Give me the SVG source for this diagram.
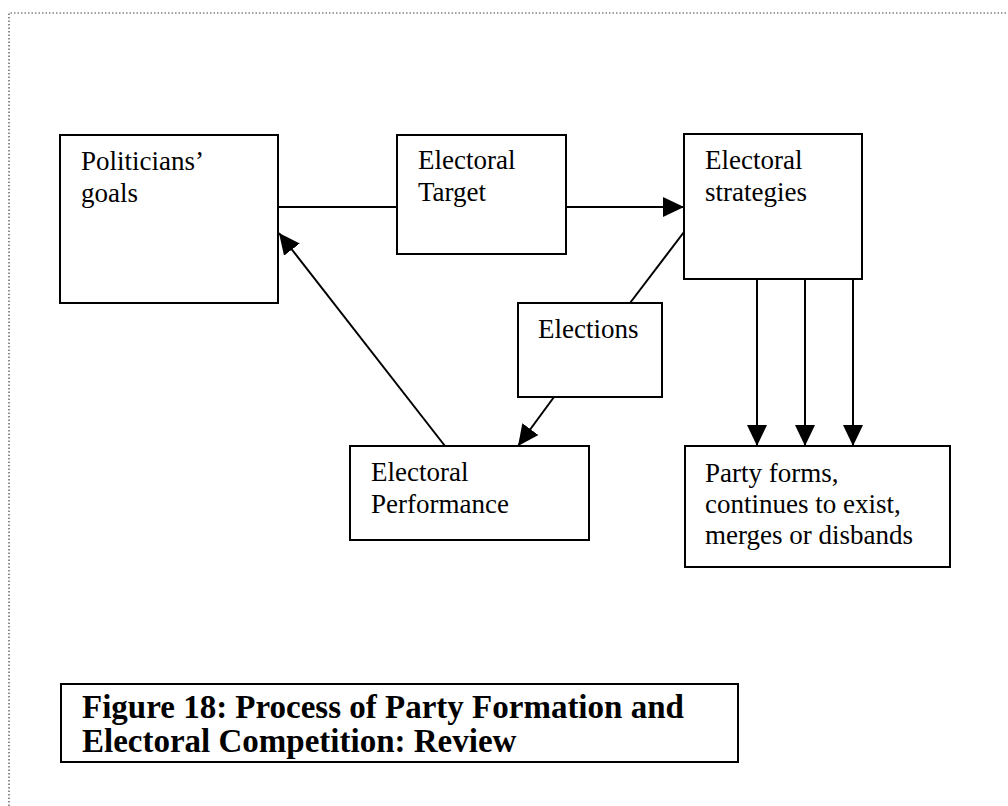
<svg xmlns="http://www.w3.org/2000/svg" width="1008" height="806" viewBox="0 0 1008 806">
  <defs>
    <marker id="head" markerUnits="userSpaceOnUse" markerWidth="22" markerHeight="20" refX="21" refY="10" orient="auto">
      <path d="M0,0 L21,10 L0,20 Z" fill="#000"/>
    </marker>
    <style>
      .box { fill: #fff; stroke: #000; stroke-width: 2; }
      .lbl { font-family: "Liberation Serif", "Times New Roman", serif; font-size: 27px; fill: #000; }
      .cap { font-family: "Liberation Serif", "Times New Roman", serif; font-size: 33px; font-weight: bold; fill: #000; }
      .edge { stroke: #000; stroke-width: 2; fill: none; }
      .frame { stroke: #444; stroke-width: 1.2; stroke-dasharray: 1.5 2; fill: none; }
    </style>
  </defs>

  <rect width="1008" height="806" fill="#fff"/>

  <!-- dotted page frame -->
  <path class="frame" d="M9,806 V13 H1008"/>

  <!-- connectors -->
  <g id="connectors">
    <line class="edge" x1="278" y1="207" x2="397" y2="207"/>
    <line class="edge" x1="566" y1="207" x2="684" y2="207" marker-end="url(#head)"/>
    <line class="edge" x1="684" y1="232" x2="630" y2="303"/>
    <line class="edge" x1="554" y1="397" x2="518" y2="446" marker-end="url(#head)"/>
    <line class="edge" x1="445" y1="446" x2="279" y2="233" marker-end="url(#head)"/>
    <line class="edge" x1="757" y1="279" x2="757" y2="446" marker-end="url(#head)"/>
    <line class="edge" x1="805" y1="279" x2="805" y2="446" marker-end="url(#head)"/>
    <line class="edge" x1="853" y1="279" x2="853" y2="446" marker-end="url(#head)"/>
  </g>

  <g id="goals">
    <rect class="box" x="60" y="135" width="218" height="168"/>
    <text class="lbl" x="81" y="170">Politicians’</text>
    <text class="lbl" x="81" y="202">goals</text>
  </g>

  <g id="target">
    <rect class="box" x="397" y="135" width="169" height="119"/>
    <text class="lbl" x="418" y="169">Electoral</text>
    <text class="lbl" x="418" y="201">Target</text>
  </g>

  <g id="strategies">
    <rect class="box" x="684" y="134" width="178" height="145"/>
    <text class="lbl" x="705" y="169">Electoral</text>
    <text class="lbl" x="705" y="201">strategies</text>
  </g>

  <g id="elections">
    <rect class="box" x="518" y="303" width="144" height="94"/>
    <text class="lbl" x="538" y="338">Elections</text>
  </g>

  <g id="performance">
    <rect class="box" x="350" y="446" width="239" height="94"/>
    <text class="lbl" x="371" y="481">Electoral</text>
    <text class="lbl" x="371" y="513">Performance</text>
  </g>

  <g id="outcome">
    <rect class="box" x="685" y="446" width="265" height="121"/>
    <text class="lbl" x="705" y="482">Party forms,</text>
    <text class="lbl" x="705" y="513">continues to exist,</text>
    <text class="lbl" x="705" y="544">merges or disbands</text>
  </g>

  <g id="caption">
    <rect class="box" x="61" y="684" width="677" height="78"/>
    <text class="cap" x="82" y="718">Figure 18: Process of Party Formation and</text>
    <text class="cap" x="82" y="752">Electoral Competition: Review</text>
  </g>
</svg>
